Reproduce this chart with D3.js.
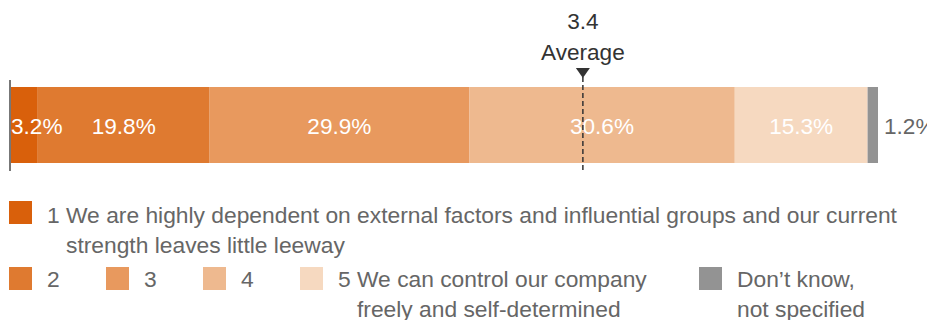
<!DOCTYPE html>
<html>
<head>
<meta charset="utf-8">
<script src="https://cdn.jsdelivr.net/npm/d3@7"></script>
<style>
  html, body { margin: 0; padding: 0; background: #fff; }
  svg { display: block; font-family: "Liberation Sans", Arial, Helvetica, sans-serif; }
</style>
</head>
<body>
<svg id="chart" width="927" height="320"></svg>
<script>
// ---- data ----
const categories = ["1", "2", "3", "4", "5", "Don't know"];
const shares = [3.2, 19.8, 29.9, 30.6, 15.3, 1.2];
const colors = ["#D9600B", "#DF7A30", "#E8995E", "#EEB98F", "#F6D9C0", "#939393"];
const averageValue = "3.4";
const averageLabel = "Average";
const averagePosition = 66.0; // position along the 0–100 % bar
const legendNumbers = ["1", "2", "3", "4", "5", ""];
const legendLines = [
  ["We are highly dependent on external factors and influential groups and our current", "strength leaves little leeway"],
  [""],
  [""],
  [""],
  ["We can control our company", "freely and self-determined"],
  ["Don\u2019t know,", "not specified"]
];

// ---- layout ----
const svg = d3.select("#chart");
const x = d3.scaleLinear().domain([0, 100]).range([10, 878]);
const barTop = 87, barH = 76;
const FS = 22.6, LFS = 22.8;

let cum = 0;
const segs = shares.map((v, i) => {
  const s = { i, v, x0: cum, x1: cum + v, cat: categories[i] };
  cum += v;
  return s;
});

svg.selectAll("rect.seg").data(segs).join("rect")
  .attr("class", "seg")
  .attr("x", d => x(d.x0))
  .attr("y", barTop)
  .attr("width", d => x(d.x1) - x(d.x0))
  .attr("height", barH)
  .attr("fill", (d, i) => colors[i]);

// axis line
svg.append("line")
  .attr("x1", x(0)).attr("x2", x(0))
  .attr("y1", 80).attr("y2", 171)
  .attr("stroke", "#777").attr("stroke-width", 2);

// segment labels
const fmt = v => v.toFixed(1) + "%";
segs.forEach((d, i) => {
  const last = i === segs.length - 1;
  const t = svg.append("text")
    .attr("y", 134)
    .attr("font-size", FS)
    .attr("fill", last ? "#666" : "#fff")
    .text(fmt(d.v));
  if (last) {
    t.attr("x", x(d.x1) + 6).attr("text-anchor", "start");
  } else {
    const w = t.node().getComputedTextLength();
    const cx = Math.max((x(d.x0) + x(d.x1)) / 2, x(0) + 1 + w / 2);
    t.attr("x", cx).attr("text-anchor", "middle");
  }
});

// average marker
const ax = x(averagePosition);
svg.append("line")
  .attr("x1", ax).attr("x2", ax)
  .attr("y1", 77).attr("y2", 171)
  .attr("stroke", "#333").attr("stroke-width", 1.5)
  .attr("stroke-dasharray", "5,3");
svg.append("path")
  .attr("d", `M${ax - 7},68 L${ax + 7},68 L${ax},78 Z`)
  .attr("fill", "#333");
svg.append("text").attr("x", ax).attr("y", 29).attr("text-anchor", "middle")
  .attr("font-size", FS).attr("fill", "#333").text(averageValue);
svg.append("text").attr("x", ax).attr("y", 60).attr("text-anchor", "middle")
  .attr("font-size", FS).attr("fill", "#333").text(averageLabel);

// legend
const legendPos = [
  { sx: 9, sy: 201, by: 223 },
  { sx: 9, sy: 267, by: 287 },
  { sx: 106, sy: 267, by: 287 },
  { sx: 203, sy: 267, by: 287 },
  { sx: 300, sy: 267, by: 287 },
  { sx: 699, sy: 267, by: 287 }
];
const sq = 23, lineH = 30;
legendPos.forEach((p, i) => {
  svg.append("rect").attr("x", p.sx).attr("y", p.sy).attr("width", sq).attr("height", sq)
    .attr("fill", colors[i]);
  const tx = p.sx + 38;
  const baseY = p.by;
  const num = legendNumbers[i];
  const lines = legendLines[i];
  const t = svg.append("text").attr("x", tx).attr("y", baseY)
    .attr("font-size", LFS).attr("fill", "#666");
  let indent = 0;
  if (num) {
    const n = t.append("tspan").text(num + (lines[0] ? "\u00a0" : ""));
    indent = n.node().getComputedTextLength();
    t.append("tspan").text(lines[0]);
  } else {
    t.text(lines[0]);
  }
  lines.slice(1).forEach((ln, k) => {
    svg.append("text").attr("x", tx + indent).attr("y", baseY + lineH * (k + 1))
      .attr("font-size", LFS).attr("fill", "#666").text(ln);
  });
});
</script>
</body>
</html>
